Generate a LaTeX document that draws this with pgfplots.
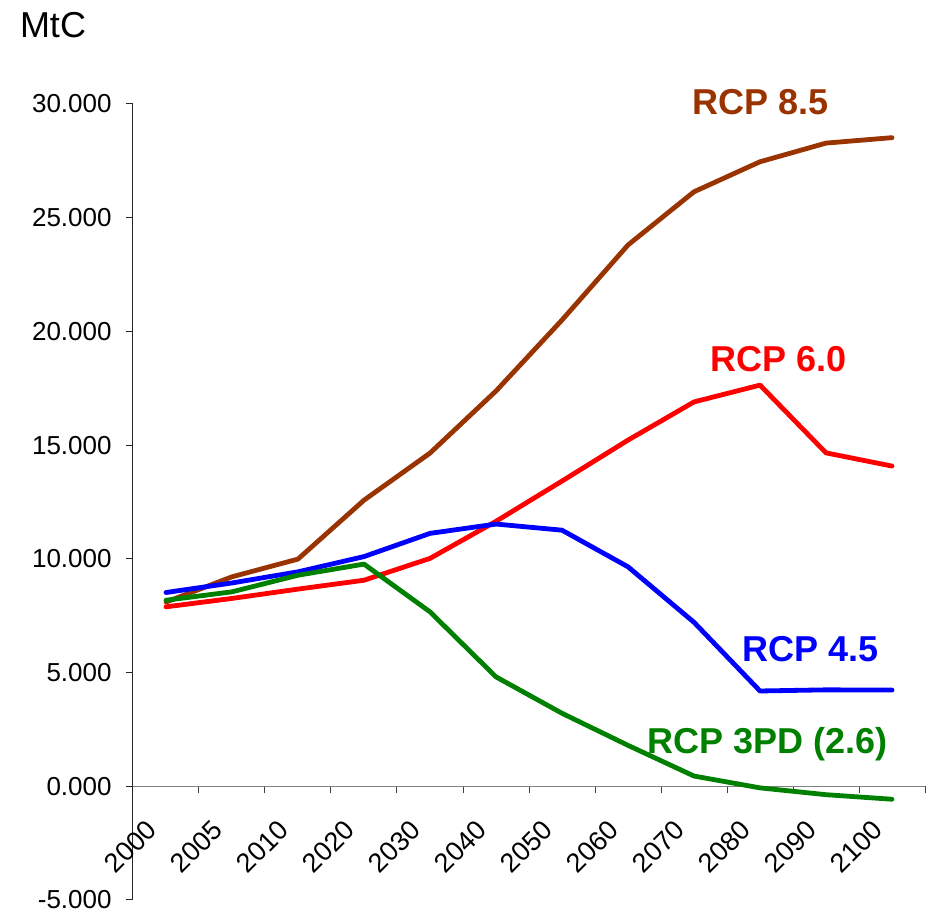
\documentclass[border=0pt]{standalone}
\usepackage{pgfplots}
\pgfplotsset{compat=1.18}
\usepackage{fontspec}
\setmainfont{Liberation Sans}
\definecolor{c85}{HTML}{993300}
\definecolor{c60}{HTML}{FF0000}
\definecolor{c45}{HTML}{0000FF}
\definecolor{c26}{HTML}{008000}
\begin{document}
\begin{tikzpicture}
\useasboundingbox (-66.5pt,-7pt) rectangle (396.5pt,450pt);
\begin{axis}[
 scale only axis, width=396pt, height=398pt,
 xmin=0, xmax=12, ymin=-5000, ymax=30000,
 axis x line*=middle, axis y line*=left,
 clip=false,
 scaled y ticks=false,
 x axis line style={gray, line width=0.5pt},
 y axis line style={black!85, line width=0.5pt},
 xtick={0.5,1.5,...,11.5},
 xticklabels={2000,2005,2010,2020,2030,2040,2050,2060,2070,2080,2090,2100},
 minor xtick={0,1,...,12},
 major x tick style={draw=none},
 minor x tick style={black!75, line width=0.5pt},
 ytick={-5000,0,...,30000},
 yticklabels={-5.000,0.000,5.000,10.000,15.000,20.000,25.000,30.000},
 major y tick style={black!85, line width=0.5pt},
 tick align=outside,
 major tick length=3.5pt, minor tick length=3.5pt,
 yticklabel style={font=\fontsize{13}{15}\selectfont, anchor=east, inner sep=0pt, xshift=-7pt},
 xticklabel style={font=\fontsize{13.5}{15}\selectfont, xshift=-7pt, yshift=-16pt, rotate=45, anchor=east, inner sep=0pt},
]
\addplot[c85, line width=2.4pt, line join=round, line cap=round] coordinates {
(0.5,8100) (1.5,9210) (2.5,9990) (3.5,12580) (4.5,14650) (5.5,17380) (6.5,20500) (7.5,23800) (8.5,26140) (9.5,27460) (10.5,28280) (11.5,28520)};
\addplot[c60, line width=2.4pt, line join=round, line cap=round] coordinates {
(0.5,7890) (1.5,8260) (2.5,8670) (3.5,9060) (4.5,10020) (5.5,11650) (6.5,13420) (7.5,15220) (8.5,16900) (9.5,17640) (10.5,14660) (11.5,14080)};
\addplot[c45, line width=2.4pt, line join=round, line cap=round] coordinates {
(0.5,8520) (1.5,8940) (2.5,9430) (3.5,10100) (4.5,11120) (5.5,11530) (6.5,11260) (7.5,9650) (8.5,7210) (9.5,4190) (10.5,4240) (11.5,4230)};
\addplot[c26, line width=2.4pt, line join=round, line cap=round] coordinates {
(0.5,8180) (1.5,8550) (2.5,9280) (3.5,9770) (4.5,7670) (5.5,4810) (6.5,3210) (7.5,1800) (8.5,450) (9.5,-70) (10.5,-370) (11.5,-570)};
\node[anchor=base, inner sep=0pt, font=\fontsize{18}{20}\selectfont\bfseries, text=c85] at (axis cs:9.515,29517) {RCP 8.5};
\node[anchor=base, inner sep=0pt, font=\fontsize{18}{20}\selectfont\bfseries, text=c60] at (axis cs:9.78,18226) {RCP 6.0};
\node[anchor=base, inner sep=0pt, font=\fontsize{18}{20}\selectfont\bfseries, text=c45] at (axis cs:10.26,5468) {RCP 4.5};
\node[anchor=base, inner sep=0pt, font=\fontsize{18}{20}\selectfont\bfseries, text=c26] at (axis cs:9.61,1452) {RCP 3PD (2.6)};
\node[anchor=base, inner sep=0pt, font=\fontsize{18}{20}\selectfont] at (axis cs:-1.212,32905) {MtC};
\end{axis}
\end{tikzpicture}
\end{document}
